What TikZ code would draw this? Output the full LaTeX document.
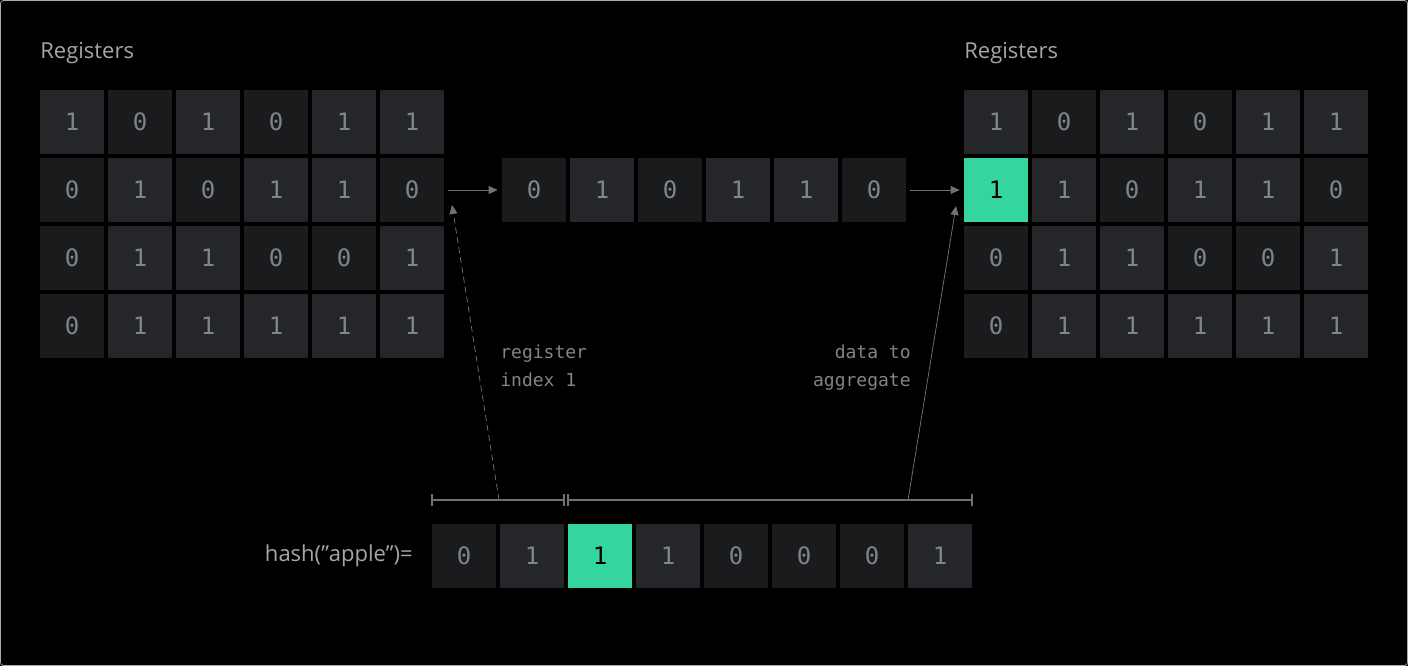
\documentclass[tikz,border=0pt]{standalone}
\usepackage{fontspec}
\setmainfont{Open Sans}
\newfontfamily\monofont{DejaVu Sans Mono}
\usetikzlibrary{arrows.meta,positioning}
\definecolor{cellone}{HTML}{25262A}
\definecolor{cellzero}{HTML}{1A1B1D}
\definecolor{digit}{HTML}{80848B}
\definecolor{labelgray}{HTML}{A3A6AB}
\definecolor{hit}{HTML}{34D69E}
\definecolor{wire}{HTML}{6E7176}
\tikzset{every picture/.style={line width=0.75pt}}

\begin{document}
\begin{tikzpicture}[x=1pt,y=-1pt,
  cell/.style={minimum size=64pt,inner sep=0pt,text=digit,font=\monofont\fontsize{24}{24}\selectfont},
  cell0/.style={cell,fill=cellzero},
  cell1/.style={cell,fill=cellone},
  cellhit/.style={cell,fill=hit,text=black},
  title/.style={text=labelgray,font=\fontsize{22}{22}\selectfont,inner sep=0pt},
  note/.style={text=digit,font=\monofont\fontsize{18}{28}\selectfont,inner sep=0pt,align=left},
  flow/.style={wire,-{Triangle[length=9pt,width=8pt]}}]
%background and frame
\fill[black] (0,0) rectangle (1408,666);
\draw[draw=wire!60,rounded corners=3pt] (0.5,0.5) rectangle (1407.5,665.5);

% Text Node
\node[title,anchor=west] (tl) at (40,53) {Registers};
\node[title,anchor=west] (tr) at (964,53) {Registers};

%left registers
\foreach \row [count=\r] in {{1,0,1,0,1,1},{0,1,0,1,1,0},{0,1,1,0,0,1},{0,1,1,1,1,1}}
  \foreach \b [count=\c] in \row
    \node[cell\b] (L-\r-\c) at (72+68*\c-68,122+68*\r-68) {\b};

%right registers
\foreach \row [count=\r] in {{1,0,1,0,1,1},{1,1,0,1,1,0},{0,1,1,0,0,1},{0,1,1,1,1,1}}
  \foreach \b [count=\c] in \row
    \node[cell\b] (R-\r-\c) at (996+68*\c-68,122+68*\r-68) {\b};
\node[cellhit] (R-hit) at (R-2-1) {1};

%selected register
\foreach \b [count=\c] in {0,1,0,1,1,0}
  \node[cell\b] (M-\c) at (534+68*\c-68,190) {\b};

%hash value
\foreach \b [count=\c] in {0,1,1,1,0,0,0,1}
  \node[cell\b] (H-\c) at (464+68*\c-68,556) {\b};
\node[cellhit] (H-hit) at (H-3) {1};
\node[title,anchor=east] (hash) at (413,556) {hash(\symbol{34}apple\symbol{34})=};

%brackets
\coordinate (b1) at (432,500);
\coordinate (b2) at (564,500);
\coordinate (b3) at (568,500);
\coordinate (b4) at (972,500);
\draw[wire,line width=1.2pt] (b1) -- (b2);
\draw[wire,line width=1.2pt] (b3) -- (b4);
\foreach \p in {b1,b2,b3,b4}
  \draw[wire,line width=1.2pt] ([yshift=-6pt]\p) -- ([yshift=6pt]\p);

%connectors
\draw[flow] ([xshift=4pt]L-2-6.east) -- ([xshift=-4pt]M-1.west);
\draw[flow] ([xshift=4pt]M-6.east) -- ([xshift=-4pt]R-hit.west);
\coordinate (d1) at (499,500);
\coordinate (d2) at (908,500);
\draw[flow,dashed,dash pattern=on 6pt off 4pt] (d1) -- (452,205);
\draw[flow] (d2) -- (956,206);

\node[note,anchor=north west] (idx) at (500,344) {register\\index 1};
\node[note,anchor=north east,align=right] (agg) at (911,344) {data to\\aggregate};
\end{tikzpicture}
\end{document}
